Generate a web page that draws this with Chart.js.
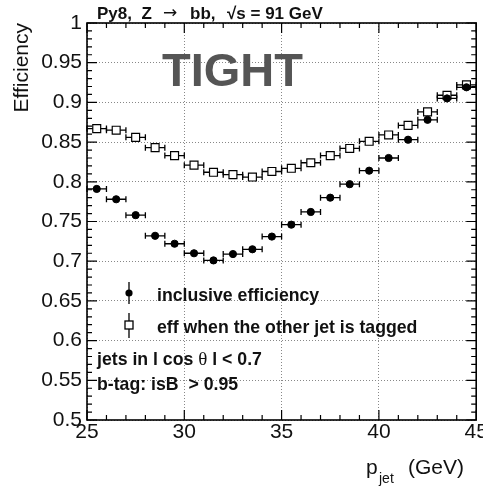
<!DOCTYPE html>
<html>
<head>
<meta charset="utf-8">
<script src="https://cdn.jsdelivr.net/npm/chart.js@4/dist/chart.umd.min.js"></script>
<style>
  html, body { margin: 0; padding: 0; background: #fff; }
  canvas { display: block; }
</style>
</head>
<body>
<canvas id="effChart" width="483" height="486"></canvas>
<script>
// bin centres (GeV) and half bin width
const ptBins = [25.5, 26.5, 27.5, 28.5, 29.5, 30.5, 31.5, 32.5, 33.5, 34.5,
                35.5, 36.5, 37.5, 38.5, 39.5, 40.5, 41.5, 42.5, 43.5, 44.5];
const binHalfWidth = 0.5;

const inclusiveEff = [0.791, 0.778, 0.758, 0.732, 0.722, 0.710, 0.701, 0.709, 0.715, 0.731,
                      0.746, 0.762, 0.780, 0.797, 0.814, 0.830, 0.853, 0.878, 0.905, 0.919];
const otherTaggedEff = [0.867, 0.865, 0.856, 0.843, 0.833, 0.821, 0.812, 0.809, 0.806, 0.813,
                        0.817, 0.824, 0.833, 0.842, 0.851, 0.859, 0.871, 0.888, 0.909, 0.922];

const seriesLabels = ['inclusive efficiency', 'eff when the other jet is tagged'];
const titleParts = ['Py8,  Z', '\u2192', 'bb,', '\u221As = 91 GeV'];
const cutLines = ['jets in l cos ', '\u03B8', ' l < 0.7'];
const cutLine2 = 'b-tag: isB  > 0.95';

const FONT = "'Liberation Sans', Arial, Helvetica, sans-serif";

const toPoints = (ys) => ptBins.map((x, i) => ({ x: x, y: ys[i] }));

// horizontal bin-width error bars, drawn under the markers
const errorBars = {
  id: 'errorBars',
  beforeDatasetsDraw(chart) {
    const { ctx, scales: { x, y } } = chart;
    ctx.save();
    ctx.strokeStyle = '#000';
    ctx.lineWidth = 1.3;
    chart.data.datasets.forEach(ds => {
      ds.data.forEach(p => {
        const x1 = x.getPixelForValue(p.x - binHalfWidth);
        const x2 = x.getPixelForValue(p.x + binHalfWidth);
        const py = y.getPixelForValue(p.y);
        ctx.beginPath();
        ctx.moveTo(x1, py); ctx.lineTo(x2, py);
        ctx.moveTo(x1, py - 3); ctx.lineTo(x1, py + 3);
        ctx.moveTo(x2, py - 3); ctx.lineTo(x2, py + 3);
        ctx.stroke();
      });
    });
    ctx.restore();
  }
};

// ROOT-like frame with inward ticks on all four sides
const frameTicks = {
  id: 'frameTicks',
  afterDatasetsDraw(chart) {
    const { ctx, chartArea: a, scales: { x, y } } = chart;
    ctx.save();
    ctx.strokeStyle = '#000';
    ctx.lineWidth = 1.2;
    ctx.beginPath();
    for (let v = x.min; v <= x.max + 1e-6; v += 1) {
      const px = x.getPixelForValue(v);
      const len = Math.abs(v % 5) < 1e-6 ? 10 : 5;
      ctx.moveTo(px, a.bottom); ctx.lineTo(px, a.bottom - len);
      ctx.moveTo(px, a.top); ctx.lineTo(px, a.top + len);
    }
    for (let k = 0; k <= 50; k++) {
      const v = y.min + k * 0.01;
      const py = y.getPixelForValue(v);
      const len = k % 5 === 0 ? 10 : 5;
      ctx.moveTo(a.left, py); ctx.lineTo(a.left + len, py);
      ctx.moveTo(a.right, py); ctx.lineTo(a.right - len, py);
    }
    ctx.stroke();
    ctx.lineWidth = 1.6;
    ctx.strokeRect(a.left, a.top, a.right - a.left, a.bottom - a.top);
    ctx.restore();
  }
};

// title, labels, legend and cut text
const annotations = {
  id: 'annotations',
  afterDraw(chart) {
    const { ctx } = chart;
    ctx.save();
    ctx.fillStyle = '#111';
    ctx.textBaseline = 'alphabetic';
    ctx.textAlign = 'left';

    ctx.font = 'bold 17px ' + FONT;
    ctx.fillText(titleParts[0], 97, 19);
    ctx.fillText(titleParts[2], 190, 19);
    ctx.fillText(titleParts[3], 227, 19);
    ctx.font = "17px 'DejaVu Sans', sans-serif";
    ctx.fillText(titleParts[1], 163, 18);

    ctx.fillStyle = '#555';
    ctx.font = 'bold 47px ' + FONT;
    ctx.fillText('TIGHT', 162, 86);

    // x axis title with subscript
    ctx.fillStyle = '#111';
    ctx.font = '21px ' + FONT;
    ctx.fillText('p', 366, 474);
    ctx.font = '14px ' + FONT;
    ctx.fillText('jet', 379, 483);
    ctx.font = '21px ' + FONT;
    ctx.fillText('(GeV)', 408, 474);

    // legend
    ctx.strokeStyle = '#000';
    ctx.lineWidth = 1.3;
    ctx.beginPath();
    ctx.moveTo(129, 282); ctx.lineTo(129, 304);
    ctx.moveTo(129, 313); ctx.lineTo(129, 321);
    ctx.moveTo(129, 329); ctx.lineTo(129, 338);
    ctx.stroke();
    ctx.beginPath();
    ctx.arc(129, 293, 3.6, 0, Math.PI * 2);
    ctx.fillStyle = '#000';
    ctx.fill();
    ctx.fillStyle = '#fff';
    ctx.fillRect(125, 321, 8, 8);
    ctx.strokeRect(125, 321, 8, 8);

    ctx.fillStyle = '#111';
    ctx.font = 'bold 17.7px ' + FONT;
    ctx.fillText(seriesLabels[0], 157, 301);
    ctx.fillText(seriesLabels[1], 157, 333);

    // cut text
    let cx = 97;
    ctx.font = 'bold 17.7px ' + FONT;
    ctx.fillText(cutLines[0], cx, 365);
    cx += ctx.measureText(cutLines[0]).width;
    ctx.font = "19px 'Liberation Serif', 'DejaVu Serif', serif";
    ctx.fillText(cutLines[1], cx, 365);
    cx += ctx.measureText(cutLines[1]).width;
    ctx.font = 'bold 17.7px ' + FONT;
    ctx.fillText(cutLines[2], cx, 365);
    ctx.fillText(cutLine2, 97, 390);
    ctx.restore();
  }
};

new Chart(document.getElementById('effChart').getContext('2d'), {
  type: 'scatter',
  data: {
    datasets: [
      {
        label: seriesLabels[0],
        data: toPoints(inclusiveEff),
        pointStyle: 'circle',
        pointRadius: 3.6,
        pointBackgroundColor: '#000',
        pointBorderColor: '#000',
        pointBorderWidth: 1,
        showLine: false
      },
      {
        label: seriesLabels[1],
        data: toPoints(otherTaggedEff),
        pointStyle: 'rect',
        pointRadius: 5.6,
        pointBackgroundColor: '#fff',
        pointBorderColor: '#000',
        pointBorderWidth: 1.2,
        showLine: false
      }
    ]
  },
  options: {
    responsive: false,
    animation: false,
    layout: { padding: { top: 23, right: 5, left: 0, bottom: 0 } },
    plugins: {
      legend: { display: false },
      tooltip: { enabled: false },
      title: { display: false }
    },
    scales: {
      x: {
        type: 'linear',
        min: 25,
        max: 45,
        grid: { color: '#888', lineWidth: 1, drawTicks: false },
        border: { display: false, dash: [1, 2] },
        ticks: {
          stepSize: 5,
          autoSkip: false,
          maxRotation: 0,
          padding: 0,
          color: '#111',
          font: { family: FONT, size: 21 }
        },
        afterFit(scale) {
          scale.height = 66;
          scale.paddingLeft = 0;
          scale.paddingRight = 0;
        }
      },
      y: {
        type: 'linear',
        min: 0.5,
        max: 1,
        grid: { color: '#888', lineWidth: 1, drawTicks: false },
        border: { display: false, dash: [1, 2] },
        ticks: {
          stepSize: 0.05,
          padding: 5,
          color: '#111',
          font: { family: FONT, size: 21 },
          callback: (v) => String(parseFloat(v.toFixed(2)))
        },
        title: {
          display: true,
          text: 'Efficiency',
          align: 'end',
          color: '#111',
          font: { family: FONT, size: 21 },
          padding: { top: 10, bottom: 0 }
        },
        afterFit(scale) {
          scale.width = 87;
          scale.paddingTop = 0;
          scale.paddingBottom = 0;
        }
      }
    }
  },
  plugins: [errorBars, frameTicks, annotations]
});
</script>
</body>
</html>
